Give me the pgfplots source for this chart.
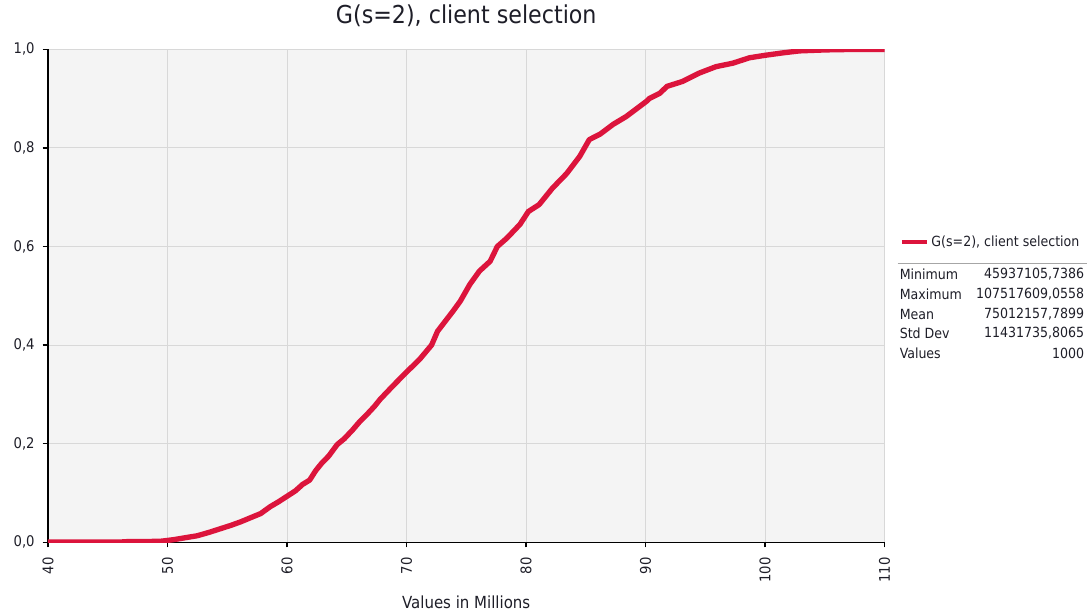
\documentclass[border=0pt]{standalone}
\usepackage{fontspec}
\setmainfont{DejaVu Sans Condensed}
\usepackage{pgfplots}
\pgfplotsset{compat=1.18}
\definecolor{curve}{RGB}{220,20,60}
\definecolor{bg}{RGB}{244,244,244}
\definecolor{gridc}{RGB}{216,216,216}
\definecolor{txt}{RGB}{30,30,40}
\newcommand{\statfont}{\fontsize{10.5}{12}\selectfont}
\begin{document}
\begin{tikzpicture}
\path (-36pt,-51pt) rectangle (780pt,405.75pt);
\begin{axis}[
  scale only axis,
  width=627.75pt, height=369.75pt,
  xmin=40, xmax=110, ymin=0, ymax=1,
  xtick={40,50,60,70,80,90,100,110},
  ytick={0,0.2,0.4,0.6,0.8,1},
  axis x line*=bottom, axis y line*=left,
  axis line style={black, line width=0.9pt, -},
  tick align=outside, major tick length=4pt,
  tick style={black, line width=0.9pt},
  grid=major, major grid style={gridc, line width=0.7pt},
  axis background/.style={fill=bg},
  /pgf/number format/assume math mode=true,
  ticklabel style={font=\fontsize{11}{13}\selectfont, text=txt},
  yticklabel style={/pgf/number format/.cd, fixed, fixed zerofill, precision=1, use comma},
  xticklabel style={rotate=90, anchor=east},
  xticklabel shift=4pt, yticklabel shift=2.5pt,
  title={G(s=2), client selection},
  title style={at={(axis description cs:0.5,1)}, anchor=center, yshift=19.5pt, font=\fontsize{18.5}{20}\selectfont, text=txt},
  xlabel={Values in Millions},
  xlabel style={at={(axis description cs:0.5,0)}, anchor=center, yshift=-45pt, font=\fontsize{12.5}{14}\selectfont, text=txt},
  legend style={at={(axis description cs:1.018,0.6085)}, anchor=west, draw=none, fill=none, font=\statfont, text=txt, inner sep=0pt},
  legend cell align=left,
  legend image code/.code={\draw[curve, line width=3pt] (0pt,0pt) -- (18.75pt,0pt);},
]
\addplot[curve, line width=4pt, line join=round] coordinates {
(40,0) (45.9,0) (46.6,0.001) (48,0.001) (49.5,0.002) (50.5,0.005)
(51.5,0.009) (52.5,0.013) (53.5,0.02) (54.4,0.027) (55.3,0.034)
(56.1,0.041) (57,0.05) (57.8,0.058) (58.6,0.072) (59.3,0.082)
(60,0.093) (60.7,0.104) (61.3,0.117) (61.9,0.126) (62.4,0.145)
(62.9,0.16) (63.5,0.175) (64.2,0.198) (64.8,0.21) (65.5,0.228)
(66.1,0.245) (66.8,0.262) (67.3,0.275) (67.8,0.29) (68.9,0.318)
(70.0,0.345) (71.1,0.371) (72.1,0.40) (72.6,0.428) (73.9,0.469)
(74.5,0.489) (75.3,0.523) (76.1,0.55) (77.0,0.57) (77.6,0.60)
(78.4,0.617) (79.5,0.645) (80.2,0.671) (81.1,0.685) (82.2,0.718)
(83.4,0.748) (84.5,0.783) (85.3,0.817) (86.2,0.828) (87.3,0.848)
(88.4,0.864) (90.1,0.895) (90.3,0.90) (91.2,0.911) (91.8,0.925)
(93.1,0.935) (94.5,0.952) (95.9,0.965) (97.3,0.972) (98.7,0.983)
(100,0.988) (101.5,0.993) (102.9,0.997) (105.1,0.999) (107.5,1.0)
(110,1.0)
};
\addlegendentry{G(s=2), client selection}
\end{axis}
\draw[gray!70, line width=0.9pt] (637.5pt,209.25pt) -- (780pt,209.25pt);
\begin{scope}[every node/.style={font=\statfont, text=txt, inner sep=0pt}]
\node[anchor=west] at (639pt,201pt) {Minimum};
\node[anchor=east] at (777.75pt,201pt) {45937105,7386};
\node[anchor=west] at (639pt,186pt) {Maximum};
\node[anchor=east] at (777.75pt,186pt) {107517609,0558};
\node[anchor=west] at (639pt,171pt) {Mean};
\node[anchor=east] at (777.75pt,171pt) {75012157,7899};
\node[anchor=west] at (639pt,156.75pt) {Std Dev};
\node[anchor=east] at (777.75pt,156.75pt) {11431735,8065};
\node[anchor=west] at (639pt,141.75pt) {Values};
\node[anchor=east] at (777.75pt,141.75pt) {1000};
\end{scope}
\end{tikzpicture}
\end{document}
